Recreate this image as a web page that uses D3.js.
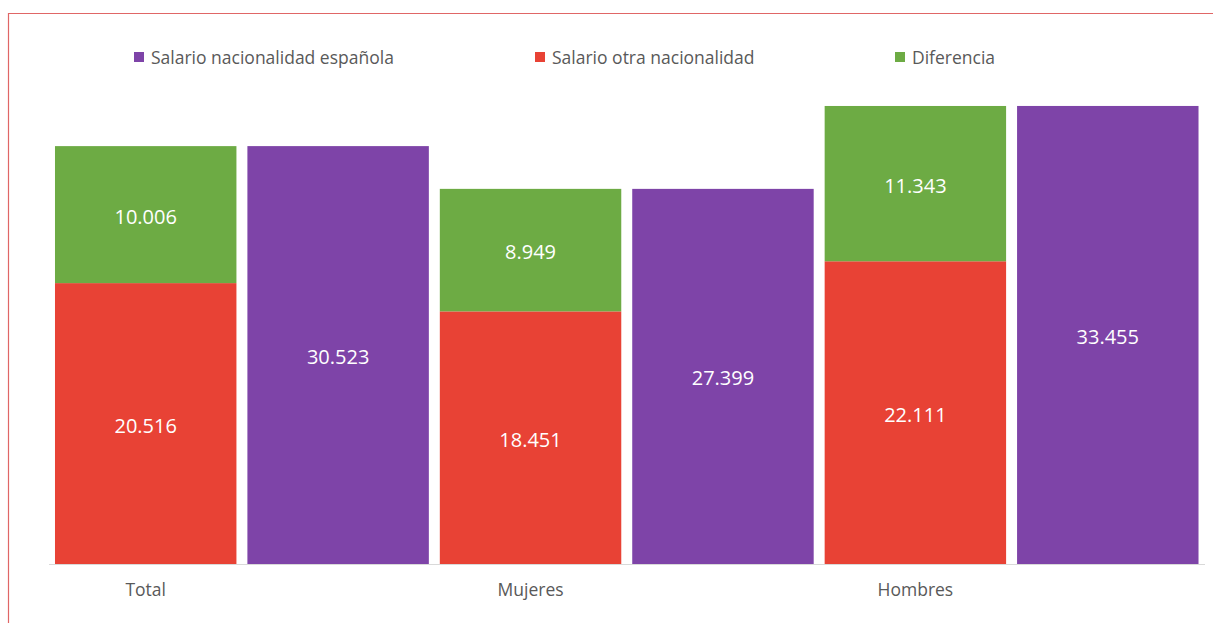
<!DOCTYPE html>
<html>
<head>
<meta charset="utf-8">
<script src="https://cdn.jsdelivr.net/npm/d3@7"></script>
<style>
  html, body { margin: 0; padding: 0; background: #fff; }
  svg { display: block; font-family: "Open Sans", "Noto Sans", sans-serif; }
</style>
</head>
<body>
<svg id="chart" width="1213" height="623"></svg>
<script>
// Salario medio anual por sexo y nacionalidad
const categories = ["Total", "Mujeres", "Hombres"];
const salarioEspanola = [30523, 27399, 33455];
const salarioOtra = [20516, 18451, 22111];
const diferencia = [10006, 8949, 11343];

const seriesNames = ["Salario nacionalidad española", "Salario otra nacionalidad", "Diferencia"];
const seriesColors = ["#7E44A8", "#E84235", "#6DAB44"];

const esLocale = d3.formatLocale({ decimal: ",", thousands: ".", grouping: [3], currency: ["", " €"] });
const fmt = esLocale.format(",d");

const svg = d3.select("#chart");

// frame
svg.append("path")
  .attr("d", "M8.5,623 L8.5,13.5 L1213,13.5")
  .attr("fill", "none")
  .attr("stroke", "#E06666")
  .attr("stroke-width", 1.2);

// one slot per bar: stacked column then Spanish-salary column for each category
const slots = [];
categories.forEach((c, i) => { slots.push(c + "|stack"); slots.push(c + "|esp"); });

const x = d3.scaleBand().domain(slots).range([49.5, 1204]).paddingInner(0.057).paddingOuter(0.0285);
const y = d3.scaleLinear().domain([0, 34000]).range([564, 98.5]);

const g = svg.append("g");

const labelFont = 20;
function addLabel(cx, cy, v) {
  g.append("text")
    .attr("x", cx).attr("y", cy + 1.5)
    .attr("text-anchor", "middle")
    .attr("dominant-baseline", "central")
    .attr("fill", "#fff")
    .attr("font-size", labelFont)
    .text(fmt(v));
}

categories.forEach((c, i) => {
  const xs = x(c + "|stack"), xe = x(c + "|esp"), w = x.bandwidth();
  // red: salary of other nationality
  g.append("rect").attr("x", xs).attr("width", w)
    .attr("y", y(salarioOtra[i])).attr("height", y(0) - y(salarioOtra[i]))
    .attr("fill", seriesColors[1]);
  // green: difference stacked on top
  const top = salarioOtra[i] + diferencia[i];
  g.append("rect").attr("x", xs).attr("width", w)
    .attr("y", y(top)).attr("height", y(salarioOtra[i]) - y(top))
    .attr("fill", seriesColors[2]);
  // purple: Spanish nationality
  g.append("rect").attr("x", xe).attr("width", w)
    .attr("y", y(salarioEspanola[i])).attr("height", y(0) - y(salarioEspanola[i]))
    .attr("fill", seriesColors[0]);

  addLabel(xs + w / 2, (y(0) + y(salarioOtra[i])) / 2, salarioOtra[i]);
  addLabel(xs + w / 2, (y(salarioOtra[i]) + y(top)) / 2, diferencia[i]);
  addLabel(xe + w / 2, (y(0) + y(salarioEspanola[i])) / 2, salarioEspanola[i]);
});

// baseline
svg.append("line")
  .attr("x1", 49).attr("x2", 1205)
  .attr("y1", y(0) + 0.5).attr("y2", y(0) + 0.5)
  .attr("stroke", "#D9D9D9").attr("stroke-width", 1.2);

// category labels under the stacked column of each group
const xAxis = d3.axisBottom(x)
  .tickValues(categories.map(c => c + "|stack"))
  .tickFormat(d => d.split("|")[0])
  .tickSize(0).tickPadding(20);
const ax = svg.append("g").attr("transform", `translate(0,${y(0)})`).call(xAxis);
ax.select(".domain").remove();
ax.selectAll("text")
  .attr("font-family", "'Open Sans', 'Noto Sans', sans-serif")
  .attr("font-size", 17.5).attr("fill", "#595959");

// legend
const legendX = [134, 535, 895];
const legend = svg.append("g");
seriesNames.forEach((n, i) => {
  legend.append("rect").attr("x", legendX[i]).attr("y", 52).attr("width", 10).attr("height", 10)
    .attr("fill", seriesColors[i]);
  legend.append("text").attr("x", legendX[i] + 17).attr("y", 57)
    .attr("dominant-baseline", "central")
    .attr("font-size", 17.5).attr("fill", "#595959")
    .text(n);
});
</script>
</body>
</html>
